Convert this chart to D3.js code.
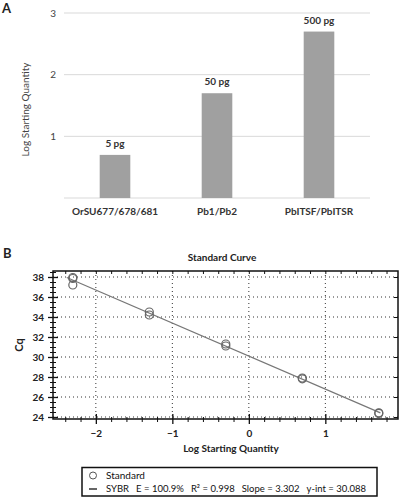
<!DOCTYPE html>
<html>
<head>
<meta charset="utf-8">
<script src="https://cdn.jsdelivr.net/npm/d3@7"></script>
<style>
  html, body { margin: 0; padding: 0; background: #fff; }
  svg { display: block; font-family: Lato, "Open Sans", sans-serif; }
</style>
</head>
<body>
<svg id="chart" width="402" height="500"></svg>
<script>
// ---------- Panel A data ----------
const barCategories = ["OrSU677/678/681", "Pb1/Pb2", "PbITSF/PbITSR"];
const barValues = [0.699, 1.699, 2.699];
const barLabels = ["5 pg", "50 pg", "500 pg"];
const barTicks = [1, 2, 3];

// ---------- Panel B data ----------
const stdX = [-2.301, -2.301, -2.301, -1.301, -1.301, -0.301, -0.301, 0.699, 0.699, 1.699, 1.699];
const stdCq = [37.95, 37.85, 37.2, 34.5, 34.2, 31.3, 31.1, 27.9, 27.82, 24.42, 24.36];
const fitSlope = -3.302;
const fitIntercept = 30.088;
const fitRange = [-2.38, 1.72];
const cqTicks = [24, 26, 28, 30, 32, 34, 36, 38];
const logTicks = [-2, -1, 0, 1];
const legendSeries = ["Standard", "SYBR"];
const legendStats = ["E = 100.9%", "R\u00B2 = 0.998", "Slope = 3.302", "y-int = 30.088"];

const svg = d3.select("#chart");

// ================= Panel A =================
const A = { left: 64, right: 370, top: 13, bottom: 198 };
const xA = d3.scaleBand().domain(barCategories).range([A.left, A.right])
  .paddingInner(0.7).paddingOuter(0.35);
const yA = d3.scaleLinear().domain([0, 3]).range([A.bottom, A.top]);

svg.append("text").attr("x", 2).attr("y", 13).text("A")
  .attr("font-weight", "bold").attr("font-size", 13).attr("fill", "#222");

const gA = svg.append("g");
gA.selectAll("line.grid").data([0].concat(barTicks)).join("line")
  .attr("x1", A.left).attr("x2", A.right)
  .attr("y1", d => yA(d)).attr("y2", d => yA(d))
  .attr("stroke", "#d9d9d9").attr("stroke-width", 1);

const yAxisA = d3.axisLeft(yA).tickValues(barTicks).tickSize(0).tickPadding(8).tickFormat(d3.format("d"));
gA.append("g").attr("transform", `translate(${A.left},0)`).call(yAxisA)
  .call(g => g.select(".domain").remove())
  .call(g => g.selectAll("text").attr("font-size", 10).attr("fill", "#444")
    .attr("font-family", "Lato, sans-serif"));

gA.selectAll("rect.bar").data(barValues).join("rect")
  .attr("x", (d, i) => xA(barCategories[i]))
  .attr("width", xA.bandwidth())
  .attr("y", d => yA(d))
  .attr("height", d => yA(0) - yA(d))
  .attr("fill", "#a0a0a0");

gA.selectAll("text.blab").data(barValues).join("text")
  .attr("x", (d, i) => xA(barCategories[i]) + xA.bandwidth() / 2)
  .attr("y", d => yA(d) - 8)
  .attr("text-anchor", "middle").attr("font-weight", "bold").attr("font-size", 10)
  .attr("fill", "#333").text((d, i) => barLabels[i]);

const xAxisA = d3.axisBottom(xA).tickSize(0).tickPadding(10);
gA.append("g").attr("transform", `translate(0,${A.bottom})`).call(xAxisA)
  .call(g => g.select(".domain").remove())
  .call(g => g.selectAll("text").attr("font-size", 10).attr("font-weight", "bold")
    .attr("fill", "#333").attr("font-family", "Lato, sans-serif"));

svg.append("text")
  .attr("transform", `translate(29,${(A.top + A.bottom) / 2 + 4}) rotate(-90)`)
  .attr("text-anchor", "middle").attr("font-size", 10).attr("fill", "#444")
  .text("Log Starting Quantity");

// ================= Panel B =================
const B = { left: 53, right: 398, top: 271, bottom: 419 };
const xB = d3.scaleLinear().domain([-2.56, 1.95]).range([B.left, B.right]);
const yB = d3.scaleLinear().domain([23.8, 38.6]).range([B.bottom, B.top]);

svg.append("text").attr("x", 3).attr("y", 258).text("B")
  .attr("font-weight", "bold").attr("font-size", 13).attr("fill", "#222");

svg.append("text").attr("x", 222).attr("y", 261)
  .attr("text-anchor", "middle").attr("font-weight", "bold").attr("font-size", 10)
  .attr("fill", "#222").text("Standard Curve");

const gB = svg.append("g");
// dotted gridlines
gB.selectAll("line.hg").data(cqTicks).join("line")
  .attr("x1", B.left).attr("x2", B.right)
  .attr("y1", d => yB(d)).attr("y2", d => yB(d))
  .attr("stroke", "#333").attr("stroke-width", 1).attr("stroke-dasharray", "1,3");
gB.selectAll("line.vg").data(logTicks).join("line")
  .attr("x1", d => xB(d)).attr("x2", d => xB(d))
  .attr("y1", B.top).attr("y2", B.bottom)
  .attr("stroke", "#333").attr("stroke-width", 1).attr("stroke-dasharray", "1,3");

// minor ticks
const minorY = d3.range(24, 38.6, 0.5);
const minorX = d3.range(-2.4, 1.95, 0.2).filter(v => Math.abs(v - Math.round(v)) > 0.01);

// left axis
gB.append("g").attr("transform", `translate(${B.left},0)`)
  .call(d3.axisLeft(yB).tickValues(minorY).tickSize(3).tickFormat(""))
  .call(g => g.select(".domain").remove())
  .call(g => g.selectAll("line").attr("x2", 3).attr("x1", -3).attr("stroke", "#111"));
gB.append("g").attr("transform", `translate(${B.left},0)`)
  .call(d3.axisLeft(yB).tickValues(cqTicks).tickSize(5).tickPadding(4))
  .call(g => g.select(".domain").remove())
  .call(g => g.selectAll("line").attr("x1", 5).attr("stroke", "#111").attr("stroke-width", 1.3))
  .call(g => g.selectAll("text").attr("font-size", 10).attr("font-weight", "bold")
    .attr("fill", "#222").attr("font-family", "Lato, sans-serif"));
// right axis small inward ticks
gB.append("g").attr("transform", `translate(${B.right},0)`)
  .call(d3.axisRight(yB).tickValues(cqTicks).tickSize(-4).tickFormat(""))
  .call(g => g.select(".domain").remove())
  .call(g => g.selectAll("line").attr("stroke", "#111"));

// bottom axis
gB.append("g").attr("transform", `translate(0,${B.bottom})`)
  .call(d3.axisBottom(xB).tickValues(minorX).tickSize(3).tickFormat(""))
  .call(g => g.select(".domain").remove())
  .call(g => g.selectAll("line").attr("y1", -2).attr("stroke", "#111"));
gB.append("g").attr("transform", `translate(0,${B.bottom})`)
  .call(d3.axisBottom(xB).tickValues(logTicks).tickSize(5).tickPadding(6).tickFormat(d3.format("d")))
  .call(g => g.select(".domain").remove())
  .call(g => g.selectAll("line").attr("y1", -5).attr("stroke", "#111").attr("stroke-width", 1.3))
  .call(g => g.selectAll("text").attr("font-size", 10).attr("font-weight", "bold")
    .attr("fill", "#222").attr("font-family", "Lato, sans-serif"));
// top axis inward ticks
gB.append("g").attr("transform", `translate(0,${B.top})`)
  .call(d3.axisTop(xB).tickValues(minorX.concat(logTicks)).tickSize(-3).tickFormat(""))
  .call(g => g.select(".domain").remove())
  .call(g => g.selectAll("line").attr("stroke", "#111"));

// frame
gB.append("rect").attr("x", B.left).attr("y", B.top)
  .attr("width", B.right - B.left).attr("height", B.bottom - B.top)
  .attr("fill", "none").attr("stroke", "#111").attr("stroke-width", 1.5);

// fit line
gB.append("line")
  .attr("x1", xB(fitRange[0])).attr("y1", yB(fitIntercept + fitSlope * fitRange[0]))
  .attr("x2", xB(fitRange[1])).attr("y2", yB(fitIntercept + fitSlope * fitRange[1]))
  .attr("stroke", "#777").attr("stroke-width", 1.2);

// points
gB.selectAll("circle.pt").data(stdX).join("circle")
  .attr("cx", d => xB(d)).attr("cy", (d, i) => yB(stdCq[i]))
  .attr("r", 4).attr("fill", "none").attr("stroke", "#666").attr("stroke-width", 1.2);

// axis titles
svg.append("text").attr("x", 231).attr("y", 452)
  .attr("text-anchor", "middle").attr("font-weight", "bold").attr("font-size", 10)
  .attr("fill", "#222").text("Log Starting Quantity");
svg.append("text")
  .attr("transform", `translate(23,${(B.top + B.bottom) / 2}) rotate(-90)`)
  .attr("text-anchor", "middle").attr("font-weight", "bold").attr("font-size", 11)
  .attr("fill", "#222").text("Cq");

// legend
const L = svg.append("g");
L.append("rect").attr("x", 82).attr("y", 467.5).attr("width", 295).attr("height", 28.5)
  .attr("fill", "#fff").attr("stroke", "#111").attr("stroke-width", 1.5);
L.append("circle").attr("cx", 93).attr("cy", 475.5).attr("r", 3.5)
  .attr("fill", "none").attr("stroke", "#555").attr("stroke-width", 1);
L.append("text").attr("x", 106).attr("y", 479).attr("font-size", 10).attr("fill", "#111").text(legendSeries[0]);
L.append("line").attr("x1", 89).attr("x2", 97).attr("y1", 489).attr("y2", 489)
  .attr("stroke", "#333").attr("stroke-width", 1.5);

// lay out "SYBR" + stats sequentially between x=106 and x=366
const segs = [legendSeries[1]].concat(legendStats);
const segNodes = L.selectAll("text.seg").data(segs).join("text")
  .attr("class", "seg").attr("y", 492).attr("font-size", 9.5).attr("fill", "#111").text(d => d);
const widths = segNodes.nodes().map(n => n.getComputedTextLength());
const start = 106, end = 366;
let total = d3.sum(widths);
let scale = 1;
let gap = (end - start - total) / (segs.length - 1);
if (gap < 7) { // compress text slightly if it would not fit
  scale = (end - start - 7 * (segs.length - 1)) / total;
  gap = 7;
}
let cx = start;
segNodes.each(function (d, i) {
  const w = widths[i] * scale;
  d3.select(this).attr("x", cx);
  if (scale !== 1) d3.select(this).attr("textLength", w).attr("lengthAdjust", "spacingAndGlyphs");
  cx += w + gap;
});
</script>
</body>
</html>
